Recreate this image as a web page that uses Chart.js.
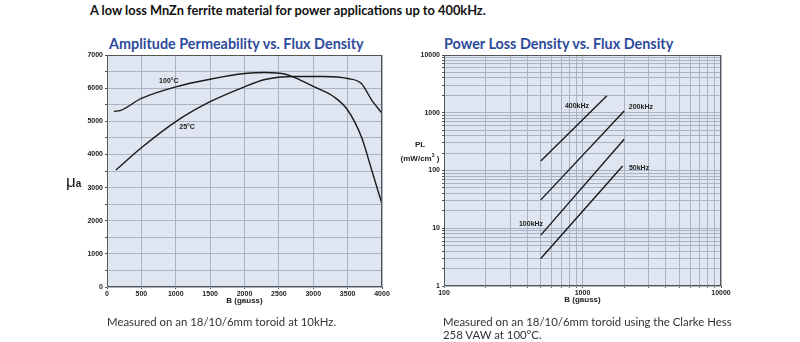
<!DOCTYPE html>
<html lang="en">
<head>
    <meta charset="UTF-8">
    <title>MnZn ferrite - permeability and power loss</title>
    <script src="https://cdn.jsdelivr.net/npm/chart.js"></script>
    <style>
        body {
            margin: 0;
            width: 800px;
            height: 342px;
            background: #fff;
            position: relative;
            overflow: hidden;
            font-family: Lato, "Open Sans", sans-serif;
        }
        .txt {
            position: absolute;
            white-space: nowrap;
        }
        .main-title {
            left: 90px;
            top: 2px;
            font-size: 12.8px;
            font-weight: bold;
            color: #111;
        }
        .chart-title {
            top: 35px;
            font-size: 14.4px;
            font-weight: bold;
            color: #2d4b9c;
        }
        .note {
            font-size: 11.4px;
            color: #333;
            line-height: 13px;
        }
        .axis-lbl {
            font-family: "Liberation Sans", Arial, sans-serif;
            font-weight: bold;
            color: #222;
        }
        .box {
            position: absolute;
            top: 0;
            width: 400px;
            height: 342px;
        }
    </style>
</head>
<body>
    <div class="txt main-title">A low loss MnZn ferrite material for power applications up to 400kHz.</div>
    <div class="txt chart-title" style="left:109px;">Amplitude Permeability vs. Flux Density</div>
    <div class="txt chart-title" style="left:444px;">Power Loss Density vs. Flux Density</div>

    <div class="box" style="left:0;"><canvas id="permChart" width="400" height="342"></canvas></div>
    <div class="box" style="left:400px;"><canvas id="lossChart" width="400" height="342"></canvas></div>

    <div class="txt axis-lbl" style="left:66px; top:172px; font-size:17px; font-weight:normal;">&mu;<span style="font-size:10px; font-weight:bold;">a</span></div>
    <div class="txt axis-lbl" style="left:397px; top:139px; width:46px; text-align:center; font-size:8px; line-height:11px;">PL<br>(mW/cm<sup style="font-size:5px;">3</sup> )</div>

    <div class="txt note" style="left:107px; top:315px;">Measured on an 18/10/6mm toroid at 10kHz.</div>
    <div class="txt note" style="left:443px; top:315px;">Measured on an 18/10/6mm toroid using the Clarke Hess<br>258 VAW at 100&deg;C.</div>

    <script>
        // amplitude permeability (left chart)
        var bHot = [100, 200, 500, 1000, 1500, 2000, 2300, 2600, 2750, 3000, 3300, 3500, 3700, 3850, 4000];
        var muHot = [5300, 5330, 5690, 6040, 6270, 6440, 6470, 6420, 6300, 6050, 5740, 5340, 4530, 3530, 2500];
        var bCold = [130, 500, 1000, 1500, 2000, 2300, 2700, 3150, 3500, 3700, 3850, 4000];
        var muCold = [3530, 4200, 4990, 5590, 6040, 6260, 6350, 6350, 6290, 6140, 5640, 5240];
        var permLabels = ['100\u00b0C', '25\u00b0C'];

        // power loss density (right chart), log-log straight lines
        var lossFreqs = ['400kHz', '200kHz', '100kHz', '50kHz'];
        var lossB = [[500, 1500], [500, 2000], [500, 2000], [500, 1950]];
        var lossPL = [[146, 1970], [31, 1070], [7.6, 347], [3.0, 120]];

        // tick labels
        var permXTicks = [0, 500, 1000, 1500, 2000, 2500, 3000, 3500, 4000];
        var permYTicks = [0, 1000, 2000, 3000, 4000, 5000, 6000, 7000];
        var lossXTicks = [100, 1000, 10000];
        var lossYTicks = [1, 10, 100, 1000, 10000];

        // where the curve names sit, in data units
        var permNotes = [[900, 6215], [1165, 4830]];
        var lossNotes = [[912, 1310], [2640, 1260], [425, 11.8], [2560, 110]];

        function pts(xs, ys) {
            return xs.map(function(x, i) { return {x: x, y: ys[i]}; });
        }

        function logGrid(from, to) {
            var out = [];
            for (var d = from; d < to; d *= 10) {
                for (var k = 1; k < 10; k++) out.push(d * k);
            }
            out.push(to);
            return out;
        }

        function only(list) {
            return function(v) { return list.indexOf(v) >= 0 ? String(v) : ''; };
        }

        var tickFont = {family: 'Liberation Sans', size: 7, weight: 'bold'};
        var gridColor = '#a9b3c3';

        var plotFrame = {
            id: 'plotFrame',
            beforeDraw: function(chart) {
                var a = chart.chartArea, c = chart.ctx;
                c.save();
                c.fillStyle = '#dfe6f1';
                c.fillRect(a.left, a.top, a.right - a.left, a.bottom - a.top);
                c.restore();
            },
            afterDraw: function(chart) {
                var a = chart.chartArea, c = chart.ctx;
                c.save();
                c.strokeStyle = '#555';
                c.lineWidth = 1;
                c.strokeRect(a.left + 0.5, a.top + 0.5, a.right - a.left - 1, a.bottom - a.top - 1);
                var notes = chart.options.plugins.plotFrame.notes;
                c.font = 'bold 7px "Liberation Sans"';
                c.fillStyle = '#222';
                c.textAlign = 'center';
                c.textBaseline = 'middle';
                notes.forEach(function(n) {
                    c.fillText(n.text, chart.scales.x.getPixelForValue(n.at[0]), chart.scales.y.getPixelForValue(n.at[1]));
                });
                c.restore();
            }
        };

        function lineSet(data) {
            return {
                data: data,
                borderColor: '#1a1a1a',
                borderWidth: 1.4,
                pointRadius: 0,
                fill: false,
                tension: 0.35,
                cubicInterpolationMode: 'monotone'
            };
        }

        function xTitle() {
            return {display: true, text: 'B (gauss)', color: '#222',
                    font: {family: 'Liberation Sans', size: 8, weight: 'bold'},
                    padding: {top: 0, bottom: 7}};
        }

        new Chart(document.getElementById('permChart'), {
            type: 'line',
            data: {
                datasets: [lineSet(pts(bHot, muHot)), lineSet(pts(bCold, muCold))]
            },
            options: {
                responsive: false,
                animation: false,
                layout: {padding: {left: 67, right: 18, top: 55, bottom: 29}},
                plugins: {
                    legend: {display: false},
                    tooltip: {enabled: false},
                    plotFrame: {notes: permLabels.map(function(t, i) { return {text: t, at: permNotes[i]}; })}
                },
                scales: {
                    x: {
                        type: 'linear', min: 0, max: 4000,
                        afterFit: function(s) { s.height = 26; },
                        afterBuildTicks: function(s) { s.ticks = permXTicks.map(function(v) { return {value: v}; }); },
                        ticks: {font: tickFont, color: '#222', padding: 1, maxRotation: 0, autoSkip: false, callback: only(permXTicks)},
                        grid: {color: gridColor, tickLength: 2, tickColor: '#555'},
                        border: {display: false},
                        title: xTitle()
                    },
                    y: {
                        min: 0, max: 7000,
                        afterFit: function(s) { s.width = 40; },
                        afterBuildTicks: function(s) {
                            var t = [];
                            for (var v = 0; v <= 7000; v += 500) t.push({value: v});
                            s.ticks = t;
                        },
                        ticks: {font: tickFont, color: '#222', padding: 2, autoSkip: false, callback: only(permYTicks)},
                        grid: {color: gridColor, tickLength: 2, tickColor: '#555'},
                        border: {display: false}
                    }
                }
            },
            plugins: [plotFrame]
        });

        new Chart(document.getElementById('lossChart'), {
            type: 'line',
            data: {
                datasets: lossB.map(function(bs, i) {
                    var d = lineSet(pts(bs, lossPL[i]));
                    d.tension = 0;
                    return d;
                })
            },
            options: {
                responsive: false,
                animation: false,
                layout: {padding: {left: 8, right: 79, top: 55, bottom: 30}},
                plugins: {
                    legend: {display: false},
                    tooltip: {enabled: false},
                    plotFrame: {notes: lossFreqs.map(function(t, i) { return {text: t, at: lossNotes[i]}; })}
                },
                scales: {
                    x: {
                        type: 'logarithmic', min: 100, max: 10000,
                        afterFit: function(s) { s.height = 26; },
                        afterBuildTicks: function(s) { s.ticks = logGrid(100, 10000).map(function(v) { return {value: v}; }); },
                        ticks: {font: tickFont, color: '#222', padding: 1, maxRotation: 0, autoSkip: false, callback: only(lossXTicks)},
                        grid: {color: gridColor, tickLength: 2, tickColor: '#555'},
                        border: {display: false},
                        title: xTitle()
                    },
                    y: {
                        type: 'logarithmic', min: 1, max: 10000,
                        afterFit: function(s) { s.width = 36; },
                        afterBuildTicks: function(s) { s.ticks = logGrid(1, 10000).map(function(v) { return {value: v}; }); },
                        ticks: {font: tickFont, color: '#222', padding: 2, autoSkip: false, callback: only(lossYTicks)},
                        grid: {color: gridColor, tickLength: 2, tickColor: '#555'},
                        border: {display: false}
                    }
                }
            },
            plugins: [plotFrame]
        });
    </script>
</body>
</html>
